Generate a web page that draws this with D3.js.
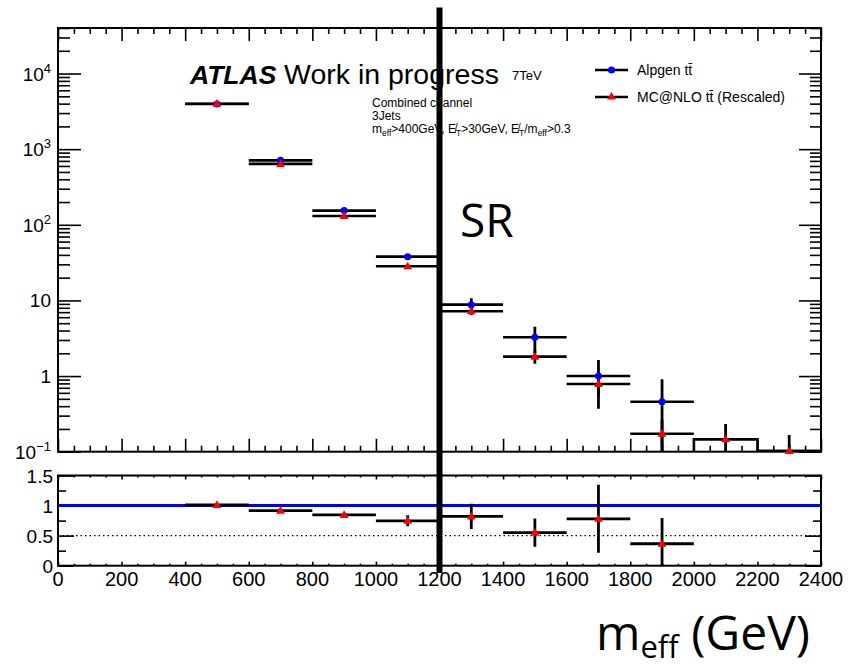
<!DOCTYPE html>
<html>
<head>
<meta charset="utf-8">
<script src="https://cdn.jsdelivr.net/npm/d3@7"></script>
<style>
  body { margin: 0; background: #fff; }
  svg text { font-family: "Liberation Sans", Arial, Helvetica, sans-serif; }
</style>
</head>
<body>
<svg id="chart" width="859" height="666"></svg>
<script>
// ---- data: m_eff distribution, 200 GeV bins ----
const binCenters = [500, 700, 900, 1100, 1300, 1500, 1700, 1900, 2100, 2300];
const binHalfWidth = 100;
const alpgen     = [3960, 712, 154, 37.9, 8.8, 3.26, 1.00, 0.458, null, null];
const alpgenErr  = [40, 14, 6, 2.2, 1.9, 1.24, 0.63, 0.45, null, null];
const mcnlo      = [3990, 640, 131, 28.3, 7.2, 1.81, 0.787, 0.173, 0.146, 0.102];
const mcnloErr   = [30, 11, 5, 1.8, 0.8, 0.35, 0.25, 0.09, 0.086, 0.064];
const ratio      = [1.01, 0.915, 0.845, 0.747, 0.82, 0.55, 0.78, 0.365];
const ratioErr   = [0.02, 0.03, 0.04, 0.09, 0.21, 0.235, 0.565, 0.43];
const xTickValues = [0, 200, 400, 600, 800, 1000, 1200, 1400, 1600, 1800, 2000, 2200, 2400];
const yDecades    = [-1, 0, 1, 2, 3, 4];
const ratioTickValues = [0, 0.5, 1, 1.5];
const ratioMinorValues = [0.25, 0.75, 1.25];
const srBoundary = 1200;
const legendLabels = ["Alpgen tt\u0304", "MC@NLO tt\u0304 (Rescaled)"];

// ---- layout ----
const svg = d3.select("#chart");
const L = 58, R = 821;
const mainTop = 28, mainBot = 451.7;
const ratTop = 475.5, ratBot = 565.7;

const x  = d3.scaleLinear().domain([0, 2400]).range([L, R]);
const y  = d3.scaleLog().domain([0.1, 4e4]).range([mainBot, mainTop]);
const yr = d3.scaleLinear().domain([0, 1.5]).range([ratBot, ratTop]);

const defs = svg.append("defs");
defs.append("clipPath").attr("id", "clipMain")
  .append("rect").attr("x", L).attr("y", mainTop).attr("width", R - L).attr("height", mainBot - mainTop);
defs.append("clipPath").attr("id", "clipRatio")
  .append("rect").attr("x", L).attr("y", ratTop).attr("width", R - L).attr("height", ratBot - ratTop);

// ---- ticks via d3 axes (inward ticks) ----
function tickAxis(axis, tx, ty) {
  const g = svg.append("g").attr("transform", `translate(${tx},${ty})`).call(axis);
  g.select(".domain").remove();
  g.selectAll("line").attr("stroke", "#000").attr("stroke-width", 1.6);
  g.selectAll("text").remove();
  return g;
}
const xMinor = d3.range(0, 2401, 50).filter(v => v % 200 !== 0);
const logMajor = yDecades.map(d => Math.pow(10, d));
const logMinor = [];
yDecades.forEach(d => { for (let k = 2; k <= 9; k++) { const v = k * Math.pow(10, d); if (v <= 4e4) logMinor.push(v); } });

// main panel
tickAxis(d3.axisBottom(x).tickValues(xTickValues).tickSize(-13).tickFormat(""), 0, mainBot);
tickAxis(d3.axisBottom(x).tickValues(xMinor).tickSize(-6).tickFormat(""), 0, mainBot);
tickAxis(d3.axisTop(x).tickValues(xTickValues).tickSize(-13).tickFormat(""), 0, mainTop);
tickAxis(d3.axisTop(x).tickValues(xMinor).tickSize(-6).tickFormat(""), 0, mainTop);
tickAxis(d3.axisLeft(y).tickValues(logMajor).tickSize(-23).tickFormat(""), L, 0);
tickAxis(d3.axisLeft(y).tickValues(logMinor).tickSize(-12).tickFormat(""), L, 0);
tickAxis(d3.axisRight(y).tickValues(logMajor).tickSize(-22).tickFormat(""), R, 0);
tickAxis(d3.axisRight(y).tickValues(logMinor).tickSize(-11).tickFormat(""), R, 0);

// ratio panel
tickAxis(d3.axisBottom(x).tickValues(xTickValues).tickSize(-4).tickFormat(""), 0, ratBot);
tickAxis(d3.axisBottom(x).tickValues(xMinor).tickSize(-2).tickFormat(""), 0, ratBot);
tickAxis(d3.axisTop(x).tickValues(xTickValues).tickSize(-4).tickFormat(""), 0, ratTop);
tickAxis(d3.axisTop(x).tickValues(xMinor).tickSize(-2).tickFormat(""), 0, ratTop);
tickAxis(d3.axisLeft(yr).tickValues(ratioTickValues).tickSize(-16).tickFormat(""), L, 0);
tickAxis(d3.axisLeft(yr).tickValues(ratioMinorValues).tickSize(-8).tickFormat(""), L, 0);
tickAxis(d3.axisRight(yr).tickValues(ratioTickValues).tickSize(-16).tickFormat(""), R, 0);
tickAxis(d3.axisRight(yr).tickValues(ratioMinorValues).tickSize(-8).tickFormat(""), R, 0);

// frames
[[mainTop, mainBot], [ratTop, ratBot]].forEach(([t, b]) => {
  svg.append("rect").attr("x", L).attr("y", t).attr("width", R - L).attr("height", b - t)
    .attr("fill", "none").attr("stroke", "#000").attr("stroke-width", 2);
});

// ---- tick labels ----
const yLab = svg.append("g").attr("font-size", 19).attr("text-anchor", "end");
yDecades.forEach(d => {
  const t = yLab.append("text").attr("x", 51).attr("y", y(Math.pow(10, d)) + 7);
  if (d === 0) t.text("1");
  else if (d === 1) t.text("10");
  else {
    t.append("tspan").text("10");
    t.append("tspan").attr("font-size", 13).attr("dy", -8).text(d < 0 ? "\u2212" + (-d) : String(d));
  }
});
const rLab = svg.append("g").attr("font-size", 19).attr("text-anchor", "end");
ratioTickValues.forEach(v => {
  rLab.append("text").attr("x", 53).attr("y", yr(v) + 7).text(String(v));
});
const xLab = svg.append("g").attr("font-size", 20).attr("text-anchor", "middle");
xTickValues.forEach(v => {
  xLab.append("text").attr("x", x(v)).attr("y", 586).text(String(v));
});

// ---- ratio panel content ----
const rg = svg.append("g").attr("clip-path", "url(#clipRatio)");
rg.append("line").attr("x1", x(0)).attr("x2", x(2400)).attr("y1", yr(0.5)).attr("y2", yr(0.5))
  .attr("stroke", "#000").attr("stroke-width", 1.2).attr("stroke-dasharray", "1.5,3");
rg.append("line").attr("x1", x(0)).attr("x2", x(2400)).attr("y1", yr(1)).attr("y2", yr(1))
  .attr("stroke", "#0000ff").attr("stroke-width", 3);

ratio.forEach((v, i) => {
  const c = binCenters[i];
  rg.append("line").attr("x1", x(c - binHalfWidth)).attr("x2", x(c + binHalfWidth))
    .attr("y1", yr(v)).attr("y2", yr(v)).attr("stroke", "#000").attr("stroke-width", 2.8);
  rg.append("line").attr("x1", x(c)).attr("x2", x(c))
    .attr("y1", yr(v + ratioErr[i])).attr("y2", yr(Math.max(v - ratioErr[i], -0.1)))
    .attr("stroke", "#000").attr("stroke-width", 2.8);
});

// ---- main panel content ----
const mg = svg.append("g").attr("clip-path", "url(#clipMain)");
function safeY(v) { return v > 0.01 ? y(v) : mainBot + 20; }

function errorBars(vals, errs) {
  vals.forEach((v, i) => {
    if (v == null) return;
    const c = binCenters[i];
    mg.append("line").attr("x1", x(c - binHalfWidth)).attr("x2", x(c + binHalfWidth))
      .attr("y1", y(v)).attr("y2", y(v)).attr("stroke", "#000").attr("stroke-width", 2.6);
    mg.append("line").attr("x1", x(c)).attr("x2", x(c))
      .attr("y1", y(v + errs[i])).attr("y2", safeY(v - errs[i]))
      .attr("stroke", "#000").attr("stroke-width", 2.8);
  });
}
errorBars(alpgen, alpgenErr);
errorBars(mcnlo, mcnloErr);

// tail bins without Alpgen entries: outline drawn from the MC@NLO content
mcnlo.forEach((v, i) => {
  if (alpgen[i] != null) return;
  const c = binCenters[i];
  mg.append("path")
    .attr("d", `M${x(c - binHalfWidth)},${mainBot} V${y(v)} H${x(c + binHalfWidth)} V${mainBot}`)
    .attr("fill", "none").attr("stroke", "#000").attr("stroke-width", 2.5);
});

const tri = d3.symbol().type(d3.symbolTriangle).size(34);
// markers (drawn on top, not clipped)
alpgen.forEach((v, i) => {
  if (v == null) return;
  svg.append("circle").attr("cx", x(binCenters[i])).attr("cy", y(v)).attr("r", 3.5).attr("fill", "#0000ff");
});
mcnlo.forEach((v, i) => {
  svg.append("path").attr("d", tri).attr("fill", "#ff0000")
    .attr("transform", `translate(${x(binCenters[i])},${y(v) + 0.5})`);
});
ratio.forEach((v, i) => {
  svg.append("path").attr("d", tri).attr("fill", "#ff0000")
    .attr("transform", `translate(${x(binCenters[i])},${yr(v) + 0.5})`);
});

// ---- signal-region boundary ----
svg.append("line").attr("x1", x(srBoundary)).attr("x2", x(srBoundary)).attr("y1", 7.5).attr("y2", 573)
  .attr("stroke", "#000").attr("stroke-width", 6);

// ---- legend ----
const lg = svg.append("g");
[70, 97].forEach((ly, i) => {
  lg.append("line").attr("x1", 595).attr("x2", 628).attr("y1", ly).attr("y2", ly)
    .attr("stroke", "#000").attr("stroke-width", 2.5);
  if (i === 0) lg.append("circle").attr("cx", 611.5).attr("cy", ly).attr("r", 3.5).attr("fill", "#0000ff");
  else lg.append("path").attr("d", tri).attr("fill", "#ff0000").attr("transform", `translate(611.5,${ly})`);
  lg.append("text").attr("x", 637).attr("y", ly + 5).attr("font-size", 14).text(legendLabels[i]);
});

// ---- ATLAS label ----
svg.append("text").attr("x", 190).attr("y", 84).attr("font-size", 26.5)
  .attr("font-weight", "bold").attr("font-style", "italic").text("ATLAS");
svg.append("text").attr("x", 284).attr("y", 84).attr("font-size", 28.5).text("Work in progress");
svg.append("text").attr("x", 512).attr("y", 80).attr("font-size", 13).text("7TeV");

const info = svg.append("g").attr("font-size", 12);
info.append("text").attr("x", 372).attr("y", 107).text("Combined channel");
info.append("text").attr("x", 372).attr("y", 120).text("3Jets");
const cut = info.append("text").attr("x", 372).attr("y", 133);
[["m", 0], ["eff", 1], [">400GeV, ", 0], ["E\u0338", 0], ["T", 1], [">30GeV, ", 0],
 ["E\u0338", 0], ["T", 1], ["/m", 0], ["eff", 1], [">0.3", 0]].forEach(([s, sub], k, arr) => {
  const prevSub = k > 0 ? arr[k - 1][1] : 0;
  const dy = sub && !prevSub ? 3 : (!sub && prevSub ? -3 : 0);
  cut.append("tspan").attr("dy", dy).attr("font-size", sub ? 8.5 : 12).text(s);
});

// ---- region and axis titles ----
svg.append("text").attr("x", 460).attr("y", 237).attr("font-size", 46)
  .style("font-family", "'Open Sans', 'Noto Sans', sans-serif").text("SR");
const xt = svg.append("text").attr("x", 596).attr("y", 650).attr("font-size", 48)
  .style("font-family", "'Open Sans', 'Noto Sans', sans-serif");
xt.append("tspan").text("m");
xt.append("tspan").attr("font-size", 31).attr("dy", 8).text("eff");
xt.append("tspan").attr("dy", -8).text(" (GeV)");
</script>
</body>
</html>
